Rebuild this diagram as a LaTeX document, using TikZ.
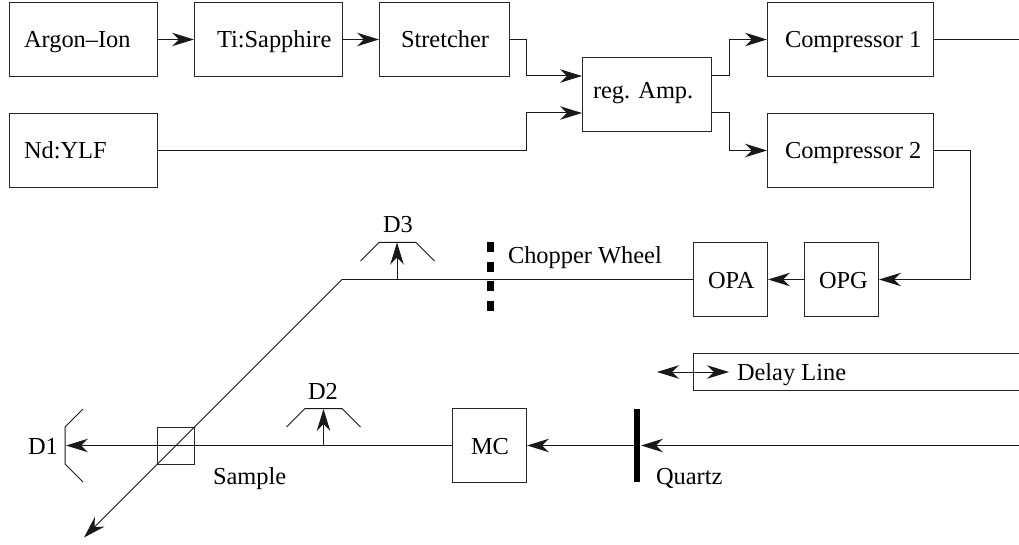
\documentclass[tikz,border=0pt]{standalone}
\usepackage{fontspec}
\setmainfont{Liberation Serif}
\usetikzlibrary{arrows.meta}
\tikzset{
  x=1pt,y=-1pt,
  box/.style={draw=black!85,line width=1pt,inner sep=0pt,outer sep=0pt,anchor=north west},
  lab/.style={inner sep=0pt,outer sep=0pt,anchor=base west,font=\fontsize{24.4}{26}\selectfont},
  wire/.style={line width=1pt,draw=black!90},
  arr/.style={wire,-{Stealth[length=22pt,width=13.5pt,inset=7pt]}},
  darr/.style={wire,{Stealth[length=22pt,width=13.5pt,inset=7pt]}-{Stealth[length=22pt,width=13.5pt,inset=7pt]}},
  det/.style={line width=1pt,draw=black!90}
}
\begin{document}
\begin{tikzpicture}
\useasboundingbox (0,0) rectangle (1019,545);
\node[box,minimum width=148pt,minimum height=74pt] (argon) at (9,2.5) {};
\node[box,minimum width=148pt,minimum height=74pt] (ti) at (194,2.5) {};
\node[box,minimum width=130pt,minimum height=74pt] (stretch) at (379,2.5) {};
\node[box,minimum width=148pt,minimum height=74pt] (nd) at (9,113.5) {};
\node[box,minimum width=129pt,minimum height=74pt] (amp) at (582,58) {};
\node[box,minimum width=166pt,minimum height=74pt] (c1) at (767,2.5) {};
\node[box,minimum width=166pt,minimum height=74pt] (c2) at (767,113.5) {};
\node[box,minimum width=74pt,minimum height=74pt] (opa) at (693,242.5) {};
\node[box,minimum width=74pt,minimum height=74pt] (opg) at (804,242.5) {};
\node[box,minimum width=74pt,minimum height=74pt] (mc) at (452,408.5) {};
\node[box,minimum width=37pt,minimum height=37pt] (sample) at (157,427.5) {};
\draw[box] (1019,353) -- (693,353) -- (693,390) -- (1019,390);

\node[lab] (largon) at (24,48) {Argon–Ion};
\node[lab] (lti) at (217,48) {Ti:Sapphire};
\node[lab] (lstretch) at (401,48) {Stretcher};
\node[lab] (lnd) at (24,159) {Nd:YLF};
\node[lab] (lamp) at (593,99) {reg. Amp.};
\node[lab] (lc1) at (785,48) {Compressor 1};
\node[lab] (lc2) at (785,159) {Compressor 2};
\node[lab] (lopa) at (708,288) {OPA};
\node[lab] (lopg) at (819,288) {OPG};
\node[lab] (lmc) at (471,454) {MC};
\node[lab] (ldelay) at (737,380) {Delay Line};
\node[lab] (lsample) at (213,484) {Sample};
\node[lab] (lquartz) at (656,484) {Quartz};
\node[lab] (ld1) at (28,454) {D1};
\node[lab] (ld2) at (308,399) {D2};
\node[lab] (ld3) at (383,233) {D3};
\node[lab] (lchop) at (508,263) {Chopper Wheel};

\coordinate (e1) at (1019,39.5);
\coordinate (e2) at (1019,445.5);
\coordinate (corner) at (342,279.5);
\coordinate (tail) at (84,537.5);
\coordinate (d1hit) at (66,445.5);
\coordinate (d2hit) at (323.5,409);
\coordinate (d2foot) at (323.5,445.5);
\coordinate (d3hit) at (397,242.5);
\coordinate (d3foot) at (397,279.5);
\coordinate (qz) at (637,445.5);
\coordinate (qzr) at (641,445.5);
\coordinate (dl) at (657,372);
\coordinate (dr) at (729,372);

\draw[arr] (argon.east) -- (ti.west);
\draw[arr] (ti.east) -- (stretch.west);
\draw[arr] (stretch.east) -- (526,39.5) -- (526,76) -- (582,76);
\draw[arr] (nd.east) -- (526,150.5) -- (526,113) -- (582,113);
\draw[arr] (711,76) -- (729,76) -- (729,39.5) -- (c1.west);
\draw[arr] (711,113) -- (729,113) -- (729,150.5) -- (c2.west);
\draw[wire] (c1.east) -- (e1);
\draw[arr] (c2.east) -- (970,150.5) -- (970,279.5) -- ([xshift=1pt]opg.east);
\draw[arr] (opg.west) -- ([xshift=1pt]opa.east);
\draw[wire] (opa.west) -- (corner);
\draw[arr] (corner) -- (tail);
\draw[arr] (d2foot) -- (d2hit);
\draw[arr] (d3foot) -- (d3hit);
\draw[arr] (e2) -- (qzr);
\draw[arr] (qz) -- ([xshift=1pt]mc.east);
\draw[arr] (mc.west) -- (d1hit);
\draw[darr] (dl) -- (dr);
\draw[line width=6pt] (637,409) -- (637,482);
\draw[line width=7pt,dash pattern=on 10pt off 9.7pt] (490,242) -- (490,312);
\draw[det] (83,409) -- (65,427) -- (65,464) -- (83,482);
\draw[det] (286.5,427) -- (305,408.5) -- (342,408.5) -- (360.5,427);
\draw[det] (360.5,261) -- (379,242.5) -- (416,242.5) -- (434.5,261);
\end{tikzpicture}
\end{document}
